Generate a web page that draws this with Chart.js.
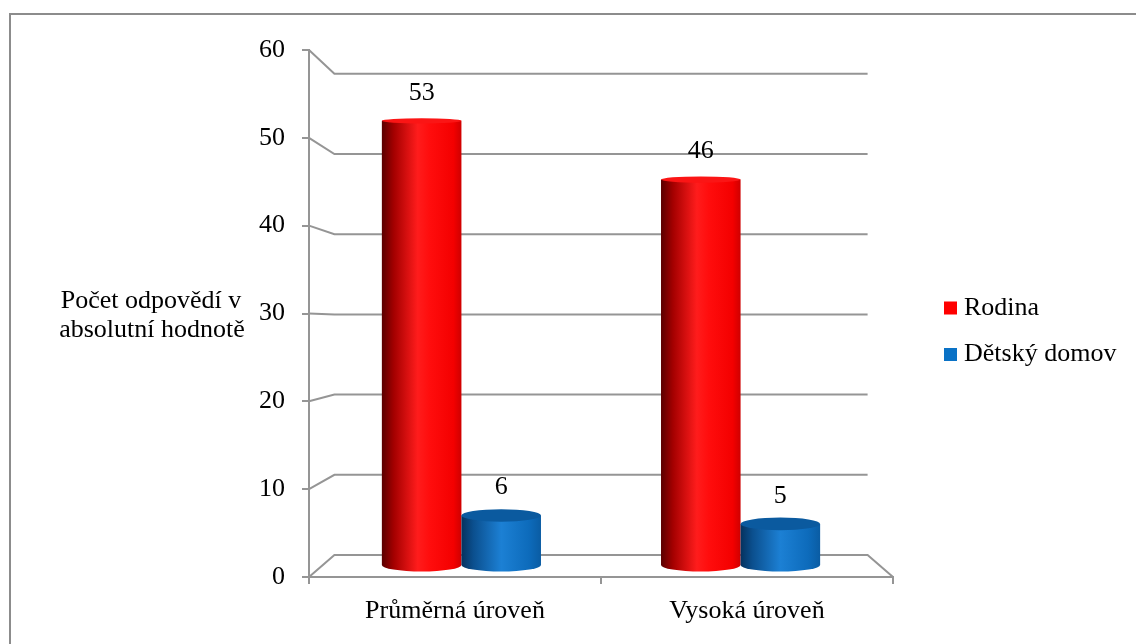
<!DOCTYPE html>
<html lang="cs">
<head>
<meta charset="UTF-8">
<title>Počet odpovědí</title>
<script src="https://cdn.jsdelivr.net/npm/chart.js"></script>
<style>
  html, body { margin: 0; padding: 0; background: #fff; }
  #wrap { width: 1136px; height: 644px; }
</style>
</head>
<body>
<div id="wrap"><canvas id="chart" width="1136" height="644"></canvas></div>
<script>
var categories = ['Průměrná úroveň', 'Vysoká úroveň'];
var seriesNames = ['Rodina', 'Dětský domov'];
var rodina = [53, 46];
var detskyDomov = [6, 5];
var yMin = 0, yMax = 60, yStep = 10;
var axisTitle = ['Počet odpovědí v', 'absolutní hodnotě'];

var FONT = "'Liberation Serif', 'Times New Roman', serif";
var SIZE = 26;
var GRID = '#959595';
var BACK = 0.913;   // back wall scale
var MID = 0.956;    // depth of the cylinders

// simple perspective: shrink points towards a vanishing centre
function depth(ca, x, y, s) {
  var cx = (ca.left + ca.right) / 2;
  var cy = ca.top + (ca.bottom - ca.top) * 0.52;
  return { x: cx + (x - cx) * s, y: cy + (y - cy) * s };
}

var palettes = [
  { stops: [[0, '#5a0000'], [0.15, '#a40000'], [0.45, '#ff1c1c'], [0.6, '#ff0d0d'], [0.9, '#f40000'], [1, '#cf0000']], top: '#fb1515' },
  { stops: [[0, '#05325e'], [0.15, '#0b4f8e'], [0.5, '#1c80d4'], [0.85, '#0d6bbb'], [1, '#0a5ca3']], top: '#0b5a9f' }
];

var frame = {
  id: 'frame',
  beforeDraw: function (chart) {
    var ctx = chart.ctx;
    ctx.save();
    ctx.fillStyle = '#fff';
    ctx.fillRect(0, 0, chart.width, chart.height);
    ctx.strokeStyle = '#8c8c8c';
    ctx.lineWidth = 2;
    ctx.strokeRect(10, 14, chart.width + 20, chart.height + 20);
    ctx.restore();
  }
};

var walls = {
  id: 'walls',
  beforeDatasetsDraw: function (chart) {
    var ctx = chart.ctx, ca = chart.chartArea, ys = chart.scales.y;
    ctx.save();
    ctx.strokeStyle = GRID;
    ctx.lineWidth = 2;
    ys.ticks.forEach(function (t) {
      var yf = ys.getPixelForValue(t.value);
      var a = depth(ca, ca.left, yf, BACK);
      var b = depth(ca, ca.right, yf, BACK);
      ctx.beginPath();
      ctx.moveTo(ca.left, yf);
      ctx.lineTo(a.x, a.y);
      ctx.lineTo(b.x, b.y);
      if (t.value === yMin) ctx.lineTo(ca.right, yf);
      ctx.stroke();
    });
    ctx.restore();
  }
};

var cylinders = {
  id: 'cylinders',
  afterDatasetsDraw: function (chart) {
    var ctx = chart.ctx, ca = chart.chartArea;
    function ry(y) { return 2 + 0.009 * (y - ca.top); }
    ctx.save();
    chart.data.datasets.forEach(function (ds, i) {
      var pal = palettes[i];
      chart.getDatasetMeta(i).data.forEach(function (el, j) {
        var top = depth(ca, el.x, el.y, MID);
        var base = depth(ca, el.x, el.base, MID);
        var w = el.width * MID;
        var x0 = top.x - w / 2, x1 = top.x + w / 2;
        var g = ctx.createLinearGradient(x0, 0, x1, 0);
        pal.stops.forEach(function (s) { g.addColorStop(s[0], s[1]); });
        var rb = ry(base.y), rt = ry(top.y);
        ctx.fillStyle = g;
        ctx.beginPath();
        ctx.moveTo(x0, top.y);
        ctx.lineTo(x0, base.y);
        ctx.ellipse(top.x, base.y, w / 2, rb, 0, Math.PI, 0, true);
        ctx.lineTo(x1, top.y);
        ctx.closePath();
        ctx.fill();
        ctx.fillStyle = pal.top;
        ctx.beginPath();
        ctx.ellipse(top.x, top.y, w / 2, rt, 0, 0, Math.PI * 2);
        ctx.fill();
        // value label
        ctx.fillStyle = '#000';
        ctx.font = SIZE + 'px ' + FONT;
        ctx.textAlign = 'center';
        ctx.textBaseline = 'middle';
        ctx.fillText(String(ds.data[j]), top.x, top.y - 28);
      });
    });
    ctx.restore();
  }
};

var sideText = {
  id: 'sideText',
  afterDraw: function (chart) {
    var ctx = chart.ctx;
    ctx.save();
    ctx.fillStyle = '#000';
    ctx.font = SIZE + 'px ' + FONT;
    ctx.textBaseline = 'middle';
    ctx.textAlign = 'center';
    ctx.fillText(axisTitle[0], 151, 301);
    ctx.fillText(axisTitle[1], 152, 330);
    ctx.textAlign = 'left';
    chart.data.datasets.forEach(function (ds, i) {
      var cy = 308 + i * 46.5;
      ctx.fillStyle = ds.legendColor;
      ctx.fillRect(944, cy - 6.5, 13, 13);
      ctx.fillStyle = '#000';
      ctx.fillText(ds.label, 964, cy);
    });
    ctx.restore();
  }
};

new Chart(document.getElementById('chart').getContext('2d'), {
  type: 'bar',
  data: {
    labels: categories,
    datasets: [
      { label: seriesNames[0], data: rodina, legendColor: '#ff0000',
        backgroundColor: 'rgba(0,0,0,0)', borderWidth: 0 },
      { label: seriesNames[1], data: detskyDomov, legendColor: '#0a72c6',
        backgroundColor: 'rgba(0,0,0,0)', borderWidth: 0 }
    ]
  },
  options: {
    responsive: false,
    animation: false,
    devicePixelRatio: 1,
    barPercentage: 1,
    categoryPercentage: 0.57,
    layout: { padding: { left: 0, top: 50, right: 243, bottom: 0 } },
    plugins: { legend: { display: false }, tooltip: { enabled: false } },
    scales: {
      x: {
        afterFit: function (s) { s.height = 67; },
        grid: { drawOnChartArea: false, drawTicks: true, tickLength: 7, color: GRID, lineWidth: 2 },
        border: { color: GRID, width: 2 },
        ticks: { color: '#000', padding: 12, font: { family: FONT, size: SIZE } }
      },
      y: {
        min: yMin, max: yMax,
        afterFit: function (s) { s.width = 309; },
        grid: { drawOnChartArea: false, drawTicks: true, tickLength: 7, color: GRID, lineWidth: 2 },
        border: { color: GRID, width: 2 },
        ticks: { stepSize: yStep, color: '#000', padding: 17, font: { family: FONT, size: SIZE } }
      }
    }
  },
  plugins: [frame, walls, cylinders, sideText]
});
</script>
</body>
</html>
